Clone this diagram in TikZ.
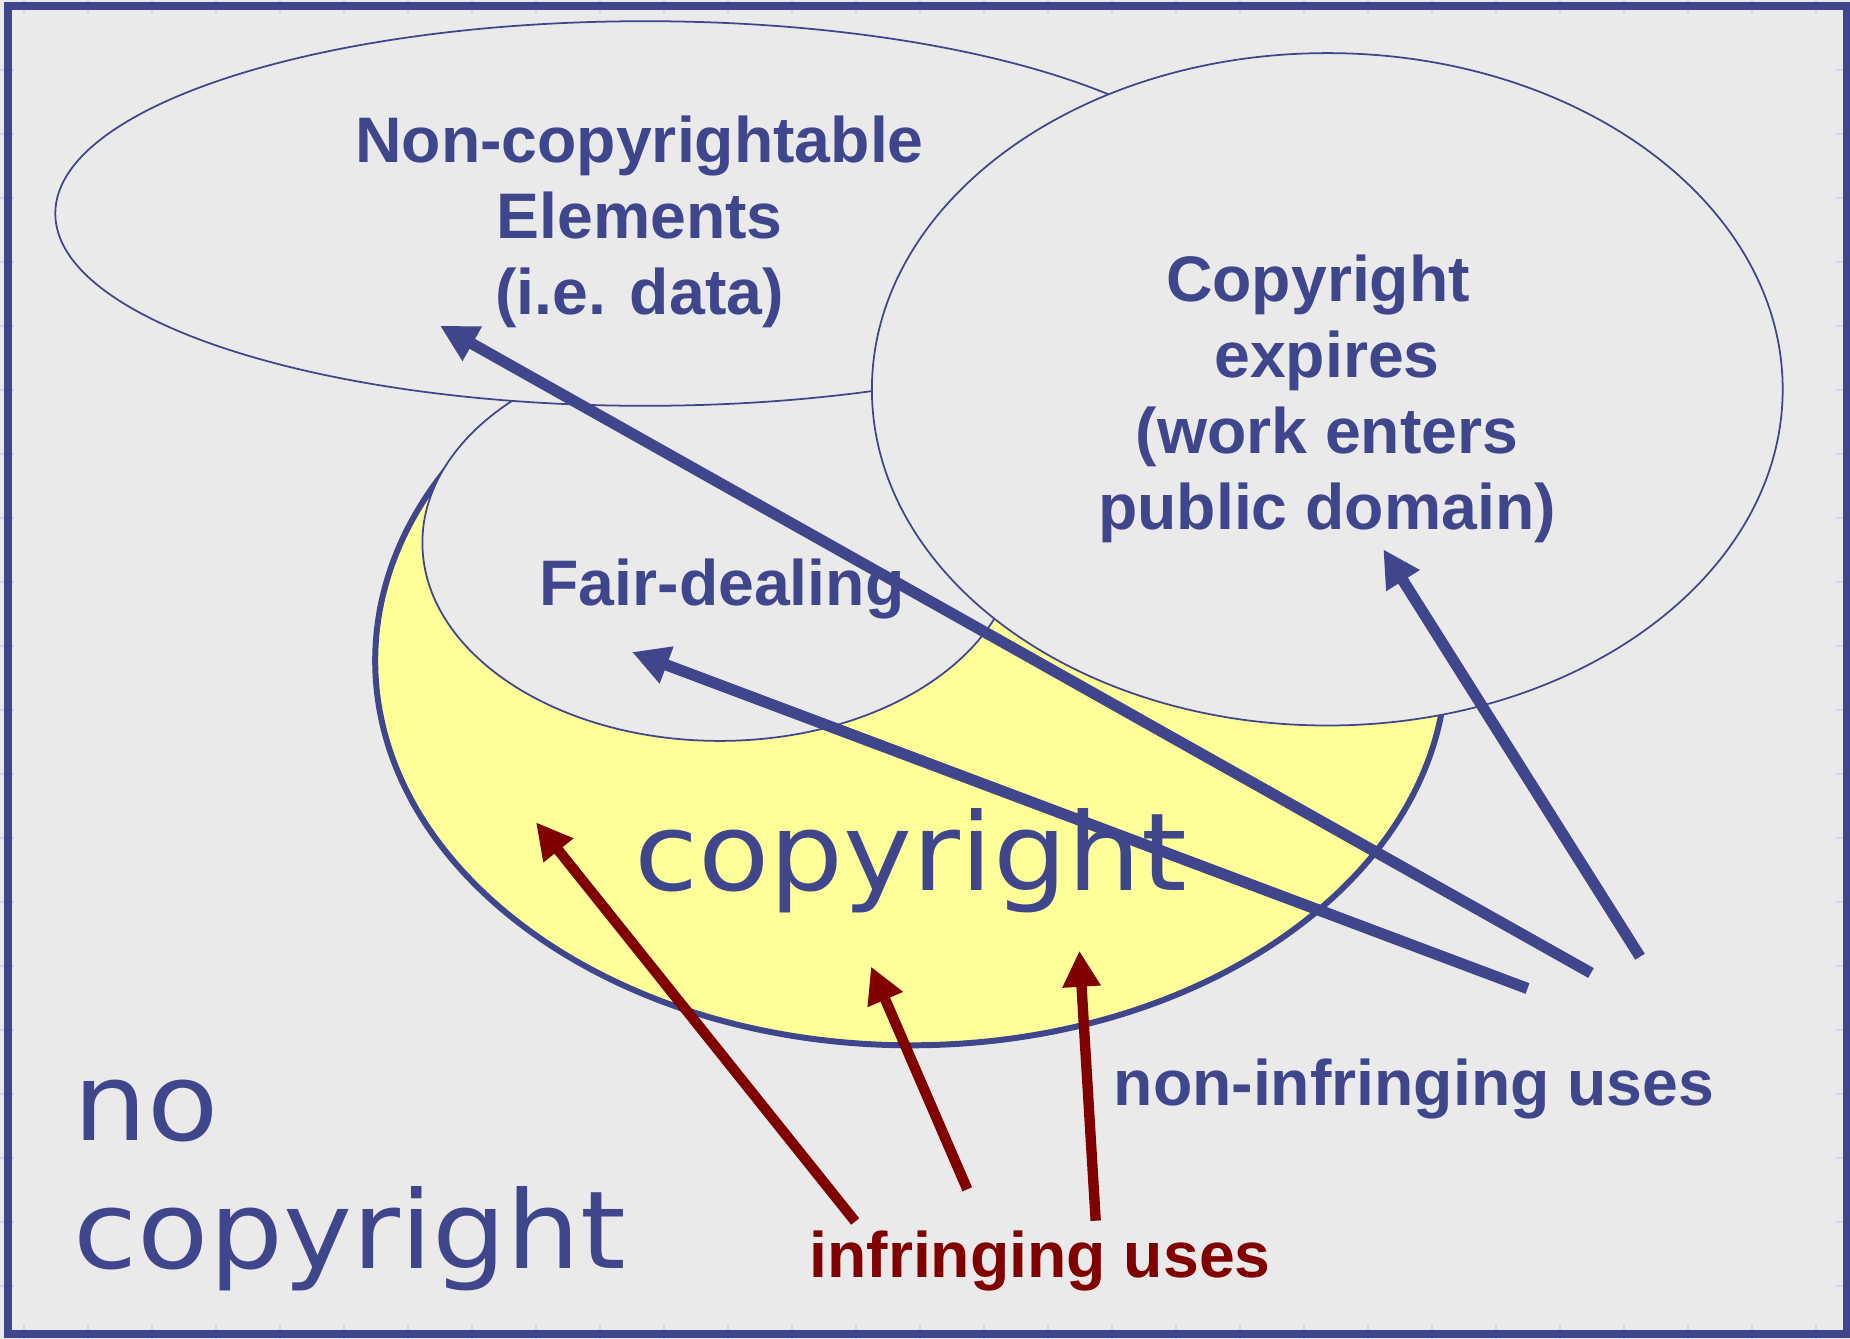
\documentclass[tikz,border=0pt]{standalone}
\usepackage{fontspec}
\setmainfont{Liberation Sans}
\newfontfamily\bigsans[FakeStretch=1.08]{DejaVu Sans}
\usetikzlibrary{arrows.meta}

\definecolor{inkblue}{RGB}{64,70,140}
\definecolor{inkred}{RGB}{128,0,0}
\definecolor{lightyellow}{RGB}{255,255,153}
\definecolor{slidegray}{RGB}{234,234,234}
\definecolor{tickblue}{RGB}{200,215,245}

\begin{document}
\begin{tikzpicture}[x=0.01cm,y=-0.01cm,
  thinring/.style={draw=inkblue, line width=0.5pt, fill=slidegray},
  thickring/.style={draw=inkblue, line width=1.7pt, fill=lightyellow},
  boldlabel/.style={font=\fontsize{18.3}{21.6}\selectfont\bfseries, text=inkblue, align=center, inner sep=0pt},
  biglabel/.style={font=\bigsans\fontsize{30.7}{36.4}\selectfont, text=inkblue, inner sep=0pt},
  bluearrow/.style={draw=inkblue, line width=3.2pt, line cap=butt, -{Triangle[length=0.37cm,width=0.37cm]}},
  redarrow/.style={draw=inkred, line width=2.95pt, line cap=butt, -{Triangle[length=0.36cm,width=0.36cm]}},
  ruletick/.style={draw=tickblue, line width=0.45pt}]

\useasboundingbox (0,0) rectangle (1850,1339);
\fill[slidegray] (0,0) rectangle (1850,1339);

% ruler ticks along the slide edges
\foreach \k in {0,...,28} {
  \draw[ruletick] ({24+64*\k},0) -- ++(0,14);
  \draw[ruletick] ({24+64*\k},1339) -- ++(0,-14);
}
\foreach \k in {0,...,19} {
  \draw[ruletick] (0,{70+64*\k}) -- ++(14,0);
  \draw[ruletick] (1850,{70+64*\k}) -- ++(-14,0);
}

% regions, back to front
\path[thickring] (910.8,660.7) ellipse [x radius=535.6, y radius=384.6];
\path[thinring] (719.7,542.7) ellipse [x radius=297.3, y radius=198.2];
\path[thinring] (645.3,213.5) ellipse [x radius=590, y radius=192.3];
\path[thinring] (1327.3,389.3) ellipse [x radius=455.4, y radius=336.2];

% labels (base anchor = baseline of the last line)
\node[boldlabel, anchor=base] (noncopy) at (639.5,314) {Non-copyrightable\\Elements\\(i.e. data)};
\node[boldlabel, anchor=base] (expires) at (1327,529.3) {Copyright\kern0.278em\\expires\\(work enters\\public domain)};
\node[boldlabel, anchor=base] (fair) at (722,605) {Fair-dealing};
\node[biglabel, anchor=base] (copy) at (910.5,890) {copyright};
\node[biglabel, anchor=base west, align=left] (nocopy) at (73,1268) {no\\copyright};
\node[boldlabel, anchor=base] (nonuse) at (1414,1105) {non-infringing uses};
\node[boldlabel, text=inkred, anchor=base] (infuse) at (1040,1277) {infringing uses};

% arrow ends
\coordinate (tipdata) at (440,325.7);
\coordinate (taildata) at (1591,973);
\coordinate (tipfair) at (632,652);
\coordinate (tailfair) at (1527.5,988.5);
\coordinate (tipexp) at (1383.3,549.3);
\coordinate (tailexp) at (1640,956.7);
\coordinate (tipinfA) at (536,822.3);
\coordinate (tailinfA) at (855.2,1221.5);
\coordinate (tipinfB) at (871,966.5);
\coordinate (tailinfB) at (967.3,1189.3);
\coordinate (tipinfC) at (1079.4,950.7);
\coordinate (tailinfC) at (1095.7,1220.7);

% non-infringing uses
\draw[bluearrow] (taildata) -- (tipdata);
\draw[bluearrow] (tailfair) -- (tipfair);
\draw[bluearrow] (tailexp) -- (tipexp);

% infringing uses
\draw[redarrow] (tailinfA) -- (tipinfA);
\draw[redarrow] (tailinfB) -- (tipinfB);
\draw[redarrow] (tailinfC) -- (tipinfC);

% slide frame
\draw[inkblue, line width=2.28pt] (8,6) rectangle (1847,1333.5);
\end{tikzpicture}
\end{document}
